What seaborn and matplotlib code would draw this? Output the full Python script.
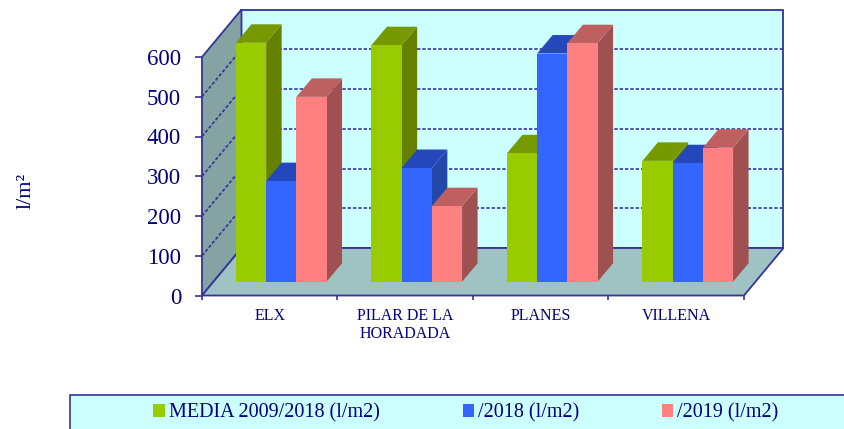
import matplotlib
matplotlib.use("Agg")
import matplotlib.pyplot as plt
from matplotlib.lines import Line2D
from matplotlib.patches import Polygon, Rectangle
from matplotlib.transforms import IdentityTransform
import pandas as pd
import seaborn as sns

zonas = ["ELX", "PILAR DE LA\nHORADADA", "PLANES", "VILLENA"]
series = ["MEDIA 2009/2018 (l/m2)", "/2018 (l/m2)", "/2019 (l/m2)"]
media = [601, 595, 323, 304]
año_2018 = [253, 286, 574, 298]
año_2019 = [465, 190, 600, 337]
y_ticks = [0, 100, 200, 300, 400, 500, 600]

front_colors = ["#99CC00", "#3366FF", "#FF8080"]
top_colors = ["#779900", "#2448BB", "#BF6060"]
side_colors = ["#668000", "#2448AA", "#9F5050"]
line_color = "#333399"
text_color = "#000080"

W, H = 845, 429
# Caja frontal del grafico en pixeles
LEFT, RIGHT, BOTTOM, TOP = 202, 744, 295.5, 57
WALL_DX, WALL_DY = 39.5, 47.5
BAR_DX, BAR_DY = 11.5, 13.8
DEPTH_DX, DEPTH_DY = 15.5, 18.5


def px_poly(ax, pts, color, zorder=1, edge="none"):
    ax.add_patch(Polygon(pts, closed=True, facecolor=color, edgecolor=edge, linewidth=1.3,
                         transform=IdentityTransform(), clip_on=False, zorder=zorder))


def px_line(ax, xs, ys, **kw):
    ax.add_line(Line2D(xs, ys, transform=IdentityTransform(), clip_on=False, **kw))


sns.set_theme(style="white")
plt.rcParams["font.family"] = ["Liberation Serif", "DejaVu Serif"]

df = pd.DataFrame({
    "zona": zonas * 3,
    "serie": [s for s in series for _ in zonas],
    "valor": media + año_2018 + año_2019,
})

fig = plt.figure(figsize=(W / 100, H / 100), dpi=100)
rect = [LEFT / W, (H - BOTTOM) / H, (RIGHT - LEFT) / W, (BOTTOM - TOP) / H]
ax = fig.add_axes(rect)
bars_ax = fig.add_axes([rect[0] + BAR_DX / W, rect[1] + BAR_DY / H, rect[2], rect[3]])

sns.barplot(data=df, x="zona", y="valor", hue="serie", palette=front_colors, saturation=1,
            width=0.669, gap=0, ax=bars_ax, errorbar=None, linewidth=0)
bars_ax.set_xlim(-0.5, 3.5)
bars_ax.set_ylim(0, 600)
bars_ax.axis("off")

# Ejes y paredes
ax.set_xlim(-0.5, 3.5)
ax.set_ylim(0, 600)
ax.patch.set_visible(False)
for s in ax.spines.values():
    s.set_visible(False)
ax.set_xticks([-0.5, 0.5, 1.5, 2.5, 3.5])
ax.set_xticklabels([])
ax.set_xticks([0, 1, 2, 3], minor=True)
ax.set_xticklabels(zonas, minor=True, fontsize=11.5, color=text_color, linespacing=1.2)
ax.tick_params(axis="x", which="major", length=3, width=1.2, color=line_color, bottom=True)
ax.tick_params(axis="x", which="minor", length=0, pad=9, bottom=True)
ax.set_yticks(y_ticks)
ax.set_yticklabels([str(v) for v in y_ticks], fontsize=16.5, color=text_color)
ax.tick_params(axis="y", length=5, width=1.2, color=line_color, pad=10, left=True)
ax.set_ylabel("l/m²", fontsize=16, color=text_color)
ax.yaxis.set_label_coords(-0.307, 0.44)

to_px = ax.transData.transform
x0, y0 = to_px((-0.5, 0))
x1, y1 = to_px((3.5, 600))
bx0, by0 = x0 + WALL_DX, y0 + WALL_DY
bx1, by1 = x1 + WALL_DX, y1 + WALL_DY

px_poly(ax, [(bx0, by0), (bx1, by0), (bx1, by1), (bx0, by1)], "#CCFFFF", 1, line_color)
px_poly(ax, [(x0, y0), (bx0, by0), (bx0, by1), (x0, y1)], "#85A3A3", 1, line_color)
px_poly(ax, [(x0, y0), (x1, y0), (bx1, by0), (bx0, by0)], "#9FC3C3", 1, line_color)

for v in y_ticks[1:-1]:
    _, ty = to_px((-0.5, v))
    dash = dict(color=line_color, linewidth=1.2, linestyle=(0, (2, 1.2)), zorder=2)
    px_line(ax, [x0, bx0], [ty, ty + WALL_DY], **dash)
    px_line(ax, [bx0, bx1], [ty + WALL_DY, ty + WALL_DY], **dash)

# Caras superior y lateral de cada barra
for j, cont in enumerate(bars_ax.containers):
    for bar in cont:
        (ax0, ay0), (ax1, ay1) = bars_ax.transData.transform(
            [(bar.get_x(), 0), (bar.get_x() + bar.get_width(), bar.get_height())])
        z = 3 + 2 * j
        px_poly(bars_ax, [(ax1, ay0), (ax1 + DEPTH_DX, ay0 + DEPTH_DY),
                          (ax1 + DEPTH_DX, ay1 + DEPTH_DY), (ax1, ay1)], side_colors[j], z)
        px_poly(bars_ax, [(ax0, ay1), (ax1, ay1), (ax1 + DEPTH_DX, ay1 + DEPTH_DY),
                          (ax0 + DEPTH_DX, ay1 + DEPTH_DY)], top_colors[j], z)
        bar.set_zorder(z + 1)

# Leyenda
fig.add_artist(Rectangle((70 / W, (H - 440) / H), 800 / W, 45 / H, transform=fig.transFigure,
                         facecolor="#CCFFFF", edgecolor=line_color, linewidth=1.2, zorder=-1))
sns.move_legend(bars_ax, "center", bbox_to_anchor=(466 / W, (H - 413) / H),
                bbox_transform=fig.transFigure, ncol=3, frameon=False, title=None,
                fontsize=14.5, handlelength=0.55, handleheight=0.55,
                handletextpad=0.2, columnspacing=4.13, borderpad=0)
for t in bars_ax.get_legend().get_texts():
    t.set_color(text_color)
bars_ax.get_legend().set_zorder(20)

fig.savefig("out.png", dpi=100)
plt.close(fig)
